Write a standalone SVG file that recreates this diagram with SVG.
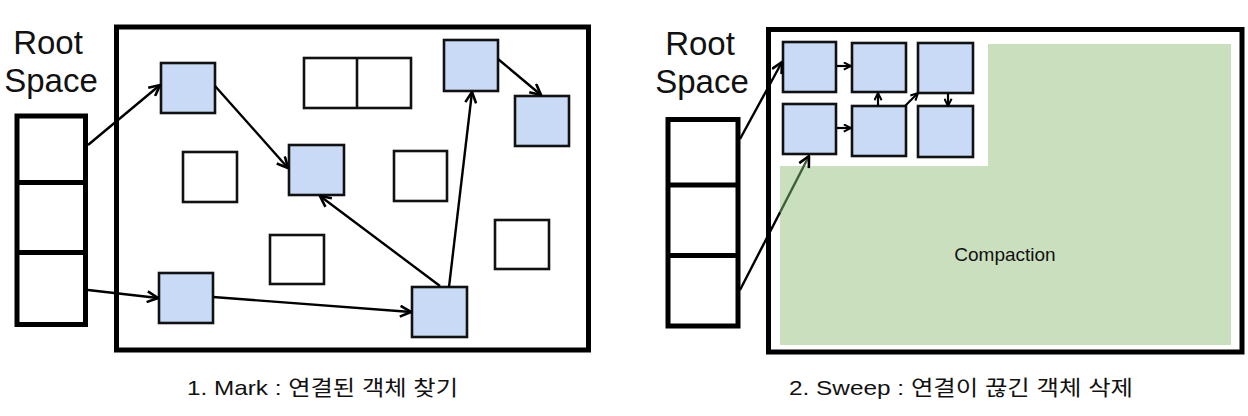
<svg xmlns="http://www.w3.org/2000/svg" width="1248" height="416" viewBox="0 0 1248 416">
<style>
.frame{fill:none;stroke:#000;stroke-width:5}
.stack{fill:#fff;stroke:#000;stroke-width:5}
.obj{fill:#c9daf6;stroke:#111;stroke-width:2.6}
.free{fill:#fff;stroke:#111;stroke-width:2.6}
.edge{fill:none;stroke:#000;stroke-width:2.4;marker-end:url(#ah)}
.edge-s{fill:none;stroke:#000;stroke-width:2.2;marker-end:url(#ahs)}
.lbl{font-family:"Liberation Sans","Noto Sans CJK KR",sans-serif;fill:#111}
.title{font-size:33px}
.cap{font-size:21px}
</style>
<defs>
<marker id="ah" markerUnits="userSpaceOnUse" viewBox="0 0 12 12" refX="11" refY="6" markerWidth="13" markerHeight="13" orient="auto">
<path d="M1,1 L11,6 L1,11" fill="none" stroke="#000" stroke-width="2.4"/>
</marker>
<marker id="ahs" markerUnits="userSpaceOnUse" viewBox="0 0 10 10" refX="9" refY="5" markerWidth="9" markerHeight="9" orient="auto">
<path d="M1,1 L9,5 L1,9" fill="none" stroke="#000" stroke-width="2.2"/>
</marker>
<linearGradient id="gl" gradientUnits="userSpaceOnUse" x1="740" y1="290" x2="809" y2="156">
<stop offset="0" stop-color="#000"/>
<stop offset="0.58" stop-color="#000"/>
<stop offset="0.58" stop-color="#3f5f38"/>
<stop offset="1" stop-color="#3f5f38"/>
</linearGradient>
</defs>
<rect width="1248" height="416" fill="#fff"/>

<!-- Panel 1: Mark -->
<g id="mark-root-label">
<text class="lbl title" x="48" y="54" text-anchor="middle">Root</text>
<text class="lbl title" x="51" y="92" text-anchor="middle">Space</text>
</g>
<g id="mark-root-stack">
<rect class="stack" x="17" y="116" width="68.5" height="208.5"/>
<line x1="17" y1="182.5" x2="85.5" y2="182.5" stroke="#000" stroke-width="5"/>
<line x1="17" y1="252.5" x2="85.5" y2="252.5" stroke="#000" stroke-width="5"/>
</g>
<g id="mark-heap">
<rect class="frame" x="116.5" y="27" width="472" height="323"/>
</g>
<g id="mark-a"><rect class="obj" x="161" y="63" width="54" height="50"/></g>
<g id="mark-b"><rect class="obj" x="289" y="145" width="55" height="50"/></g>
<g id="mark-c"><rect class="obj" x="159" y="273" width="54" height="50"/></g>
<g id="mark-d"><rect class="obj" x="412" y="287" width="55" height="50"/></g>
<g id="mark-e"><rect class="obj" x="444" y="40" width="54" height="51"/></g>
<g id="mark-f"><rect class="obj" x="515" y="96" width="54" height="50"/></g>
<g id="mark-w-double">
<rect class="free" x="304" y="58" width="107" height="50"/>
<line x1="357" y1="58" x2="357" y2="108" stroke="#111" stroke-width="2.6"/>
</g>
<g id="mark-w1"><rect class="free" x="183" y="152" width="54" height="50"/></g>
<g id="mark-w2"><rect class="free" x="394" y="151" width="53" height="50"/></g>
<g id="mark-w3"><rect class="free" x="270" y="235" width="54" height="49"/></g>
<g id="mark-w4"><rect class="free" x="495" y="220" width="54" height="49"/></g>

<g id="mark-connectors">
<line class="edge" x1="88" y1="145" x2="160" y2="85"/>
<line class="edge" x1="215" y1="86" x2="288" y2="168"/>
<line class="edge" x1="440" y1="286" x2="320" y2="196"/>
<line class="edge" x1="449" y1="287" x2="472" y2="92"/>
<line class="edge" x1="498" y1="59" x2="541" y2="95"/>
<line class="edge" x1="88" y1="290" x2="158" y2="298"/>
<line class="edge" x1="213" y1="297" x2="411" y2="312"/>
</g>
<g id="mark-caption">
<text class="lbl cap" x="187" y="395" textLength="271" lengthAdjust="spacingAndGlyphs">1. Mark : 연결된 객체 찾기</text>
</g>

<!-- Panel 2: Sweep -->
<g id="sweep-root-label">
<text class="lbl title" x="700" y="55" text-anchor="middle">Root</text>
<text class="lbl title" x="702" y="93" text-anchor="middle">Space</text>
</g>
<g id="sweep-root-stack">
<rect class="stack" x="668" y="119.5" width="70" height="206.5"/>
<line x1="668" y1="185" x2="738" y2="185" stroke="#000" stroke-width="5"/>
<line x1="668" y1="255.5" x2="738" y2="255.5" stroke="#000" stroke-width="5"/>
</g>
<g id="sweep-heap">
<rect class="frame" x="768.5" y="29.5" width="473.5" height="322.5"/>
</g>
<g id="sweep-compaction">
<polygon points="988,44 1231,44 1231,345 780,345 780,166 988,166" fill="#c9dfbe"/>
<text class="lbl" x="1005" y="261" font-size="19" text-anchor="middle">Compaction</text>
</g>
<g id="sweep-r1"><rect class="obj" x="783" y="42" width="53" height="50"/></g>
<g id="sweep-r2"><rect class="obj" x="852" y="43" width="54" height="49"/></g>
<g id="sweep-r3"><rect class="obj" x="918" y="43" width="55" height="50"/></g>
<g id="sweep-r4"><rect class="obj" x="783" y="104" width="53" height="50"/></g>
<g id="sweep-r5"><rect class="obj" x="852" y="106" width="54" height="50"/></g>
<g id="sweep-r6"><rect class="obj" x="918" y="106" width="55" height="51"/></g>

<g id="sweep-connectors">
<line class="edge" x1="740" y1="139" x2="782" y2="62"/>
<line x1="740" y1="290" x2="809" y2="156" fill="none" stroke="url(#gl)" stroke-width="2.4" marker-end="url(#ah)"/>
<line class="edge-s" x1="837" y1="66" x2="851" y2="66"/>
<line class="edge-s" x1="837" y1="128" x2="851" y2="128"/>
<line class="edge-s" x1="878" y1="106" x2="878" y2="93"/>
<line class="edge-s" x1="905" y1="106" x2="918" y2="93"/>
<line class="edge-s" x1="948" y1="93" x2="948" y2="106"/>
</g>
<g id="sweep-caption">
<text class="lbl cap" x="789" y="395" textLength="344" lengthAdjust="spacingAndGlyphs">2. Sweep : 연결이 끊긴 객체 삭제</text>
</g>
</svg>
